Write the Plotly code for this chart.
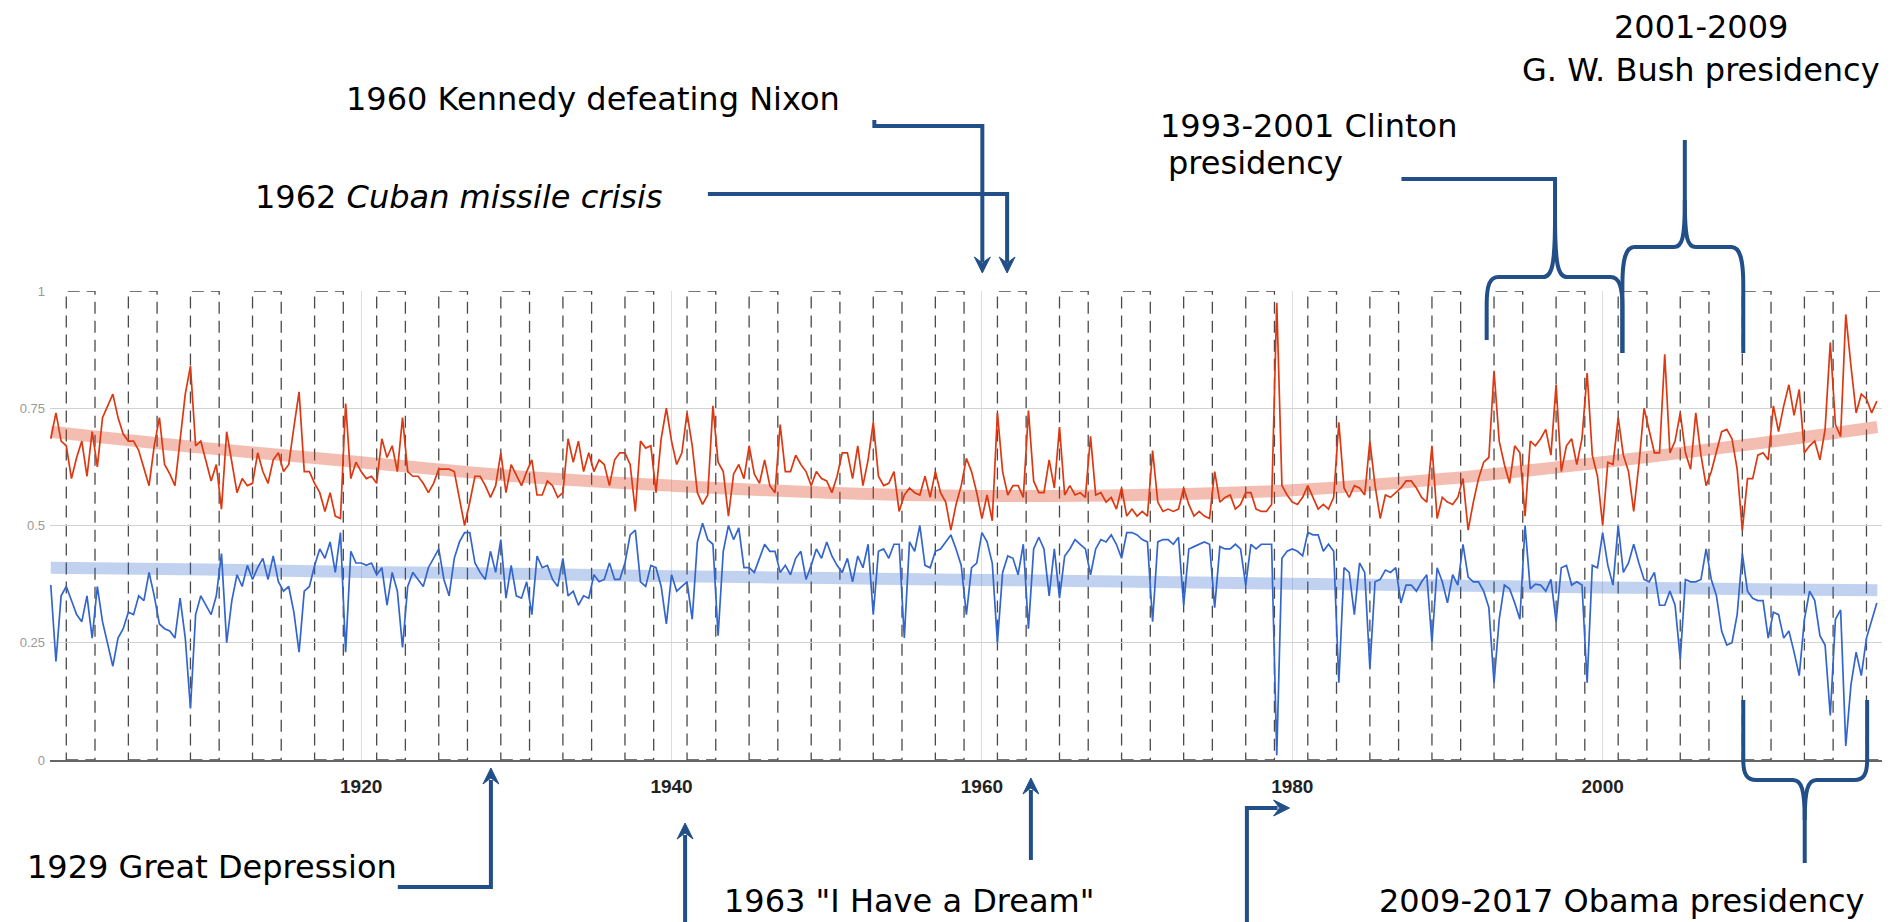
import plotly.graph_objects as go

# ---------------- data ----------------
start_year = 1900.0
samples_per_year = 3

red_values = [
    # 1900 - 1929.67
    0.685, 0.74, 0.68, 0.67, 0.60, 0.645, 0.68, 0.605, 0.70, 0.625,
    0.73, 0.755, 0.78, 0.73, 0.695, 0.68, 0.68, 0.66, 0.625, 0.585,
    0.67, 0.73, 0.63, 0.61, 0.585, 0.69, 0.78, 0.84, 0.67, 0.68,
    0.635, 0.595, 0.63, 0.535, 0.70, 0.63, 0.57, 0.60, 0.585, 0.59,
    0.655, 0.615, 0.59, 0.64, 0.655, 0.615, 0.63, 0.71, 0.785, 0.615,
    0.615, 0.59, 0.57, 0.53, 0.57, 0.52, 0.515, 0.76, 0.60, 0.635,
    0.615, 0.60, 0.605, 0.59, 0.685, 0.645, 0.67, 0.615, 0.73, 0.615,
    0.605, 0.605, 0.59, 0.57, 0.59, 0.62, 0.62, 0.62, 0.615, 0.56,
    0.50, 0.55, 0.605, 0.605, 0.585, 0.56, 0.585, 0.655, 0.57, 0.63,
    # 1930 - 1958.67
    0.607, 0.585, 0.615, 0.64, 0.565, 0.565, 0.595, 0.585, 0.56, 0.57,
    0.685, 0.635, 0.68, 0.615, 0.655, 0.615, 0.64, 0.63, 0.585, 0.64,
    0.655, 0.655, 0.63, 0.53, 0.68, 0.665, 0.67, 0.57, 0.685, 0.75,
    0.68, 0.63, 0.655, 0.74, 0.67, 0.57, 0.545, 0.565, 0.755, 0.635,
    0.615, 0.52, 0.61, 0.63, 0.60, 0.67, 0.61, 0.59, 0.64, 0.585,
    0.57, 0.715, 0.615, 0.615, 0.65, 0.63, 0.615, 0.585, 0.615, 0.60,
    0.595, 0.57, 0.605, 0.655, 0.655, 0.60, 0.67, 0.585, 0.64, 0.72,
    0.605, 0.585, 0.59, 0.615, 0.53, 0.565, 0.58, 0.57, 0.565, 0.605,
    0.56, 0.615, 0.57, 0.55, 0.49, 0.545, 0.585,
    # 1959 - 1988.33
    0.643, 0.615, 0.57, 0.515, 0.565, 0.51, 0.74, 0.615, 0.565, 0.585,
    0.585, 0.56, 0.745, 0.595, 0.57, 0.57, 0.64, 0.58, 0.71, 0.565,
    0.585, 0.565, 0.57, 0.56, 0.69, 0.565, 0.57, 0.55, 0.56, 0.535,
    0.58, 0.52, 0.535, 0.52, 0.53, 0.52, 0.66, 0.55, 0.53, 0.535,
    0.53, 0.535, 0.58, 0.545, 0.52, 0.53, 0.52, 0.515, 0.615, 0.55,
    0.56, 0.565, 0.535, 0.545, 0.57, 0.57, 0.535, 0.53, 0.53, 0.545,
    0.975, 0.585, 0.565, 0.55, 0.545, 0.56, 0.585, 0.56, 0.535, 0.545,
    0.535, 0.56, 0.72, 0.58, 0.56, 0.585, 0.58, 0.565, 0.68, 0.585,
    0.515, 0.565, 0.56, 0.57, 0.58, 0.595, 0.595, 0.58, 0.56,
    # 1988.67 - 2017.67
    0.55, 0.67, 0.515, 0.56, 0.55, 0.545, 0.56, 0.60, 0.49, 0.55,
    0.60, 0.635, 0.645, 0.83, 0.68, 0.63, 0.59, 0.67, 0.655, 0.52,
    0.68, 0.67, 0.685, 0.705, 0.65, 0.80, 0.615, 0.67, 0.685, 0.63,
    0.685, 0.825, 0.65, 0.605, 0.50, 0.635, 0.63, 0.73, 0.65, 0.615,
    0.53, 0.63, 0.75, 0.70, 0.655, 0.655, 0.865, 0.655, 0.68, 0.74,
    0.655, 0.62, 0.74, 0.65, 0.585, 0.615, 0.655, 0.70, 0.705, 0.685,
    0.62, 0.49, 0.60, 0.60, 0.65, 0.655, 0.64, 0.755, 0.70, 0.755,
    0.80, 0.735, 0.79, 0.655, 0.67, 0.68, 0.64, 0.705, 0.89, 0.715,
    0.69, 0.95, 0.84, 0.74, 0.78, 0.77, 0.74, 0.765,
]

blue_values = [
    # 1900 - 1929.67
    0.373, 0.21, 0.35, 0.37, 0.34, 0.31, 0.295, 0.35, 0.26, 0.37,
    0.295, 0.245, 0.20, 0.26, 0.28, 0.315, 0.31, 0.35, 0.34, 0.40,
    0.35, 0.29, 0.28, 0.275, 0.26, 0.345, 0.26, 0.11, 0.31, 0.35,
    0.33, 0.31, 0.35, 0.44, 0.25, 0.34, 0.395, 0.37, 0.415, 0.385,
    0.41, 0.43, 0.385, 0.435, 0.38, 0.36, 0.37, 0.315, 0.23, 0.36,
    0.37, 0.415, 0.45, 0.43, 0.465, 0.40, 0.485, 0.23, 0.445, 0.42,
    0.42, 0.415, 0.42, 0.395, 0.41, 0.33, 0.40, 0.36, 0.24, 0.37,
    0.40, 0.385, 0.37, 0.41, 0.43, 0.45, 0.385, 0.35, 0.43, 0.465,
    0.485, 0.485, 0.42, 0.40, 0.385, 0.445, 0.40, 0.47, 0.345, 0.415,
    # 1930 - 1958.67
    0.35, 0.345, 0.38, 0.31, 0.435, 0.41, 0.415, 0.385, 0.37, 0.43,
    0.35, 0.36, 0.33, 0.35, 0.345, 0.395, 0.38, 0.385, 0.42, 0.385,
    0.385, 0.42, 0.48, 0.49, 0.38, 0.37, 0.415, 0.41, 0.37, 0.29,
    0.395, 0.36, 0.37, 0.38, 0.30, 0.465, 0.505, 0.47, 0.46, 0.265,
    0.445, 0.50, 0.47, 0.495, 0.41, 0.41, 0.40, 0.43, 0.46, 0.445,
    0.445, 0.40, 0.415, 0.395, 0.43, 0.445, 0.385, 0.415, 0.45, 0.43,
    0.465, 0.435, 0.415, 0.40, 0.43, 0.38, 0.435, 0.41, 0.46, 0.31,
    0.445, 0.45, 0.43, 0.46, 0.46, 0.26, 0.465, 0.445, 0.50, 0.415,
    0.41, 0.445, 0.45, 0.465, 0.48, 0.45, 0.415,
    # 1959 - 1988.33
    0.31, 0.41, 0.42, 0.485, 0.465, 0.42, 0.25, 0.40, 0.435, 0.43,
    0.395, 0.46, 0.28, 0.45, 0.475, 0.45, 0.35, 0.45, 0.345, 0.435,
    0.45, 0.47, 0.46, 0.45, 0.395, 0.45, 0.47, 0.465, 0.48, 0.46,
    0.43, 0.485, 0.485, 0.48, 0.47, 0.465, 0.295, 0.465, 0.47, 0.47,
    0.46, 0.475, 0.33, 0.45, 0.455, 0.46, 0.465, 0.46, 0.325, 0.455,
    0.45, 0.45, 0.46, 0.45, 0.373, 0.46, 0.45, 0.46, 0.46, 0.46,
    0.01, 0.43, 0.445, 0.45, 0.445, 0.435, 0.485, 0.48, 0.48, 0.445,
    0.46, 0.445, 0.165, 0.41, 0.40, 0.31, 0.42, 0.40, 0.195, 0.38,
    0.385, 0.405, 0.40, 0.41, 0.335, 0.373, 0.373, 0.36, 0.38,
    # 1988.67 - 2017.67
    0.395, 0.25, 0.41, 0.38, 0.335, 0.395, 0.373, 0.46, 0.39, 0.38,
    0.38, 0.36, 0.325, 0.165, 0.30, 0.373, 0.365, 0.335, 0.30, 0.50,
    0.365, 0.375, 0.373, 0.36, 0.385, 0.295, 0.41, 0.415, 0.373, 0.38,
    0.373, 0.165, 0.415, 0.41, 0.485, 0.415, 0.373, 0.50, 0.40, 0.42,
    0.46, 0.42, 0.385, 0.38, 0.40, 0.33, 0.33, 0.36, 0.33, 0.215,
    0.385, 0.38, 0.38, 0.385, 0.45, 0.385, 0.35, 0.275, 0.245, 0.25,
    0.31, 0.44, 0.36, 0.345, 0.34, 0.34, 0.26, 0.315, 0.31, 0.26,
    0.275, 0.23, 0.18, 0.30, 0.36, 0.34, 0.265, 0.245, 0.095, 0.30,
    0.32, 0.03, 0.16, 0.23, 0.18, 0.26, 0.295, 0.335,
]

trend_years = [1900, 1910, 1920, 1930, 1940, 1950, 1960, 1970, 1980, 1990, 2000, 2010, 2017.7]
red_trend = [0.70, 0.665, 0.635, 0.605, 0.585, 0.57, 0.563, 0.565, 0.575, 0.60, 0.635, 0.675, 0.71]
blue_trend = [0.41, 0.406, 0.401, 0.397, 0.392, 0.388, 0.384, 0.38, 0.376, 0.372, 0.368, 0.364, 0.362]

x_tick_years = [1920, 1940, 1960, 1980, 2000]
y_tick_vals = [0, 0.25, 0.5, 0.75, 1]
y_tick_text = ["0", "0.25", "0.5", "0.75", "1"]

# presidential election years; dashed boxes run from the following January to the midterm
election_years = list(range(1900, 2017, 4))

years = [start_year + i / samples_per_year for i in range(len(red_values))]

# ---------------- layout geometry ----------------
OFF = 8                      # page body margin of the html page
W, H = 1893, 922
PW, PH = 1849, 469           # plot area size
L, T = 33 - OFF, 291 - OFF   # plot area top-left inside the figure
R = W - L - PW
B = H - T - PH
X_RANGE = [1899.95, 2018.0]

RED = "#dc3912"
BLUE = "#3366cc"
NAVY = "#234f89"


def fx(p):
    """page pixel x -> paper x"""
    return (p - OFF - L) / PW


def fy(p):
    """page pixel y -> paper y"""
    return (T + PH - (p - OFF)) / PH


def path(cmds):
    out = []
    for c in cmds:
        op, pts = c[0], c[1:]
        if op == "Z":
            out.append("Z")
            continue
        coords = []
        for i in range(0, len(pts), 2):
            coords.append(f"{fx(pts[i]):.5f},{fy(pts[i + 1]):.5f}")
        out.append(op + " " + " ".join(coords))
    return " ".join(out)


fig = go.Figure()

fig.add_trace(go.Scatter(x=trend_years, y=red_trend, mode="lines", line_shape="spline",
                         line=dict(color="rgba(220,57,18,0.33)", width=12), hoverinfo="skip"))
fig.add_trace(go.Scatter(x=trend_years, y=blue_trend, mode="lines", line_shape="spline",
                         line=dict(color="rgba(51,102,204,0.3)", width=12), hoverinfo="skip"))
fig.add_trace(go.Scatter(x=years, y=red_values, mode="lines", line=dict(color=RED, width=1.7)))
fig.add_trace(go.Scatter(x=years, y=blue_values, mode="lines", line=dict(color=BLUE, width=1.7)))

shapes = []
for P in election_years:
    shapes.append(dict(type="rect", xref="x", yref="y", x0=P + 1.0, x1=P + 2.85, y0=0, y1=1,
                       line=dict(color="#4a4a4a", width=1.3, dash="12px,7px"), layer="below"))

line_style = dict(color=NAVY, width=4)


def add_line(cmds):
    shapes.append(dict(type="path", xref="paper", yref="paper", path=path(cmds), line=line_style))


def add_head(tip, direction):
    x, y = tip
    s, n = 8, 16
    if direction == "down":
        pts = [("M", x - s, y - n), ("L", x, y), ("L", x + s, y - n), ("L", x, y - n + 6), ("Z",)]
    elif direction == "up":
        pts = [("M", x - s, y + n), ("L", x, y), ("L", x + s, y + n), ("L", x, y + n - 6), ("Z",)]
    else:  # right
        pts = [("M", x - n, y - s), ("L", x, y), ("L", x - n, y + s), ("L", x - n + 6, y), ("Z",)]
    shapes.append(dict(type="path", xref="paper", yref="paper", path=path(pts),
                       fillcolor=NAVY, line=dict(color=NAVY, width=1)))


# Kennedy 1960
add_line([("M", 865, 120), ("L", 865, 126), ("L", 974, 126), ("L", 974, 262)])
add_head((974, 273), "down")
# Cuban missile crisis 1962
add_line([("M", 697, 194), ("L", 999, 194), ("L", 999, 262)])
add_head((999, 273), "down")
# Clinton brace
add_line([("M", 1397, 179), ("L", 1552, 179), ("L", 1552, 217)])
add_line([("M", 1552, 217), ("C", 1552, 265, 1549, 277, 1540, 277), ("L", 1495, 277),
          ("C", 1486, 277, 1483, 285, 1483, 305), ("L", 1483, 340)])
add_line([("M", 1552, 217), ("C", 1552, 265, 1555, 277, 1564, 277), ("L", 1608, 277),
          ("C", 1617, 277, 1620, 287, 1620, 307), ("L", 1620, 353)])
# Bush brace
add_line([("M", 1683, 140), ("L", 1683, 200)])
add_line([("M", 1683, 200), ("C", 1683, 240, 1680, 247, 1672, 247), ("L", 1632, 247),
          ("C", 1623, 247, 1620, 260, 1620, 285), ("L", 1620, 353)])
add_line([("M", 1683, 200), ("C", 1683, 240, 1686, 247, 1694, 247), ("L", 1730, 247),
          ("C", 1739, 247, 1742, 260, 1742, 285), ("L", 1742, 353)])
# Obama brace (below)
add_line([("M", 1742, 700), ("L", 1742, 760), ("C", 1742, 775, 1746, 780, 1755, 780), ("L", 1792, 780),
          ("C", 1801, 780, 1804, 790, 1804, 820), ("L", 1804, 863)])
add_line([("M", 1867, 700), ("L", 1867, 760), ("C", 1867, 775, 1863, 780, 1854, 780), ("L", 1816, 780),
          ("C", 1807, 780, 1804, 790, 1804, 820)])
# Great Depression 1929
add_line([("M", 384, 887), ("L", 478, 887), ("L", 478, 780)])
add_head((478, 768), "up")
# 1940 arrow
add_line([("M", 674, 930), ("L", 674, 835)])
add_head((674, 823), "up")
# 1963 I have a dream
add_line([("M", 1023, 860), ("L", 1023, 790)])
add_head((1023, 778), "up")
# 1980 arrow
add_line([("M", 1241, 930), ("L", 1241, 808), ("L", 1272, 808)])
add_head((1284, 808), "right")

TEXT_FONT = dict(family="DejaVu Sans, Verdana, sans-serif", size=32, color="#000000")
annotations = []


def note(text, x, y, xanchor="left", yanchor="middle"):
    annotations.append(dict(text=text, xref="paper", yref="paper", x=fx(x), y=fy(y),
                            xanchor=xanchor, yanchor=yanchor, showarrow=False, font=TEXT_FONT))


note("1960 Kennedy defeating Nixon", 330, 99)
note("1962 <i>Cuban missile crisis</i>", 238, 197)
note("1993-2001 Clinton", 1151, 126)
note("presidency", 1159, 163)
note("2001-2009", 1699, 27, "center")
note("G. W. Bush presidency", 1699, 70, "center")
note("1929 Great Depression", 8, 867)
note("1963 \"I Have a Dream\"", 711, 922, yanchor="bottom")
note("2009-2017 Obama presidency", 1372, 922, yanchor="bottom")

fig.update_layout(
    width=W, height=H, autosize=False,
    margin=dict(l=L, r=R, t=T, b=B, pad=0),
    paper_bgcolor="white", plot_bgcolor="rgba(0,0,0,0)",
    showlegend=False,
    shapes=shapes, annotations=annotations,
    xaxis=dict(range=X_RANGE, tickvals=x_tick_years, ticktext=[str(v) for v in x_tick_years],
               showgrid=True, gridcolor="#dedede", gridwidth=1, zeroline=False,
               showline=True, linecolor="#666666", linewidth=2, ticks="",
               ticklabelstandoff=8,
               tickfont=dict(family="Arial, Liberation Sans, sans-serif", size=19, color="#222222",
                             weight="bold")),
    yaxis=dict(range=[0, 1], tickvals=y_tick_vals, ticktext=y_tick_text,
               showgrid=True, gridcolor="#d2d2d2", gridwidth=1, zeroline=False, ticks="",
               ticklabelstandoff=4,
               tickfont=dict(family="Arial, Liberation Sans, sans-serif", size=13, color="#999999")),
)

fig.write_html("out.html")
